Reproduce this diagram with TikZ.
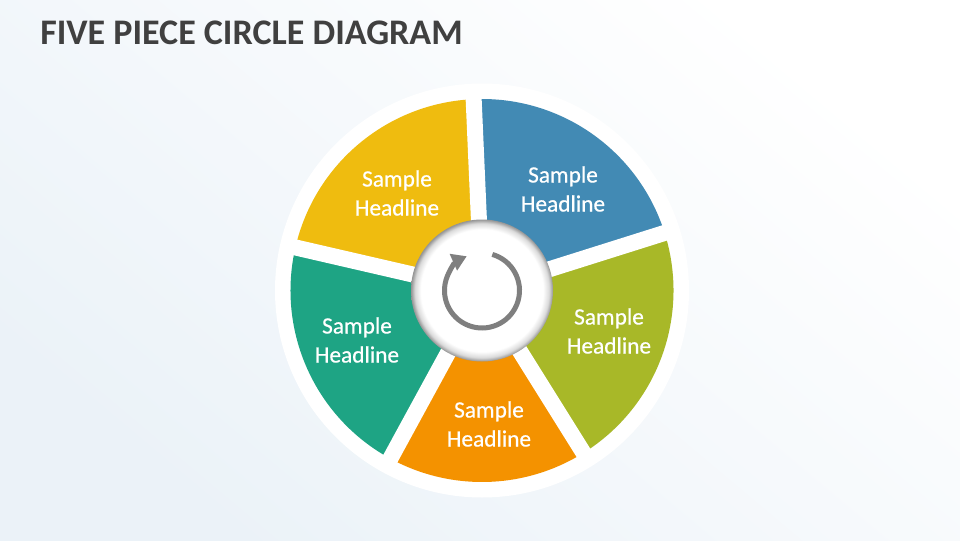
\documentclass[tikz,border=0pt]{standalone}
\usepackage{fontspec}
\setmainfont{Carlito}
\newfontfamily\labelfont[FakeBold=0.6]{Carlito}
\usetikzlibrary{arrows.meta,calc}
\definecolor{cyellow}{HTML}{EFBC0F}
\definecolor{cblue}{HTML}{428AB4}
\definecolor{cgreen}{HTML}{A8B828}
\definecolor{corange}{HTML}{F49200}
\definecolor{cteal}{HTML}{1EA484}
\definecolor{ctitle}{HTML}{404040}
\definecolor{cicon}{HTML}{7F7F7F}
\definecolor{cbg}{HTML}{EBF2F8}
\pgfdeclareradialshading{hubshade}{\pgfpoint{0bp}{0bp}}{color(0bp)=(white); color(21.5bp)=(white); color(23.6bp)=(black!14); color(25bp)=(black!42); color(50bp)=(black!42)}
\begin{document}
\begin{tikzpicture}[x=0.75pt,y=0.75pt,
  label/.style={text=white, font=\labelfont\fontsize{17.5pt}{21.75pt}\selectfont, align=center},
  gapline/.style={draw=white, line width=12pt}]
\useasboundingbox (0,0) rectangle (960,540);
\shade[top color=white, bottom color=cbg, shading angle=-40] (0,0) rectangle (960,540);
\node[font=\fontsize{27pt}{32pt}\selectfont\bfseries, text=ctitle, anchor=base west, inner sep=0pt] (title) at (40,495) {FIVE PIECE CIRCLE DIAGRAM};
\coordinate (C) at (482,249.5);
\begin{scope}[shift={(C)}]
  \fill[white] (0,0) circle[radius=207];
  \fill[cblue]   (0,0) -- (17.5:191.5) arc[start angle=17.5, end angle=92.5, radius=191.5] -- cycle;
  \fill[cyellow] (0,0) -- (92.5:191.5) arc[start angle=92.5, end angle=167, radius=191.5] -- cycle;
  \fill[cteal]   (0,0) -- (167:191.5) arc[start angle=167, end angle=241.4, radius=191.5] -- cycle;
  \fill[corange] (0,0) -- (241.4:191.5) arc[start angle=241.4, end angle=302, radius=191.5] -- cycle;
  \fill[cgreen]  (0,0) -- (302:191.5) arc[start angle=302, end angle=377.5, radius=191.5] -- cycle;
  \foreach \a in {17.5,92.5,167,241.4,302}
    \draw[gapline] (0,0) -- (\a:200);
\end{scope}
\node[circle, minimum size=106.5pt, inner sep=0pt, shading=hubshade] (hub) at (C) {};
\draw[cicon, line width=3.75pt, -{Triangle[length=11pt, width=13pt]}]
  ($(C)+(74:37.5)$) arc[start angle=74, end angle=-246, radius=37.5];
\node[label] (l1) at (563,351) {Sample\\Headline};
\node[label] (l2) at (397,347) {Sample\\Headline};
\node[label] (l3) at (357,200) {Sample\\Headline};
\node[label] (l4) at (489,116) {Sample\\Headline};
\node[label] (l5) at (609,209) {Sample\\Headline};
\end{tikzpicture}
\end{document}
